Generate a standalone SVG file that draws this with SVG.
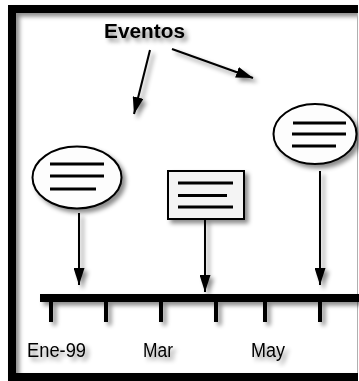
<svg xmlns="http://www.w3.org/2000/svg" width="359" height="381" viewBox="0 0 359 381">
  <defs>
    <filter id="shadow" x="-20%" y="-20%" width="150%" height="150%">
      <feDropShadow dx="3.5" dy="3.5" stdDeviation="2.2" flood-color="#000" flood-opacity="0.45"/>
    </filter>
    <marker id="headL" viewBox="0 0 17 11" refX="17" refY="5.5" markerWidth="17" markerHeight="11" markerUnits="userSpaceOnUse" orient="auto">
      <path d="M0,0 L17,5.5 L0,11 Z" fill="#000"/>
    </marker>
  </defs>
  <style>
    .frame { fill: none; stroke: #000; stroke-width: 8; }
    .shape { stroke: #000; stroke-width: 2; }
    .txtline { stroke: #000; stroke-width: 3; }
    .conn { stroke: #000; stroke-width: 2; fill: none; }
    .label { font-family: "Liberation Sans", Arial, sans-serif; font-size: 19.5px; fill: #000; }
    .title { font-family: "Liberation Sans", Arial, sans-serif; font-size: 21px; font-weight: bold; fill: #000; }
    .tick { stroke: #000; stroke-width: 4; }
  </style>

  <rect width="359" height="381" fill="#fff"/>

  <!-- outer frame -->
  <g id="frame" filter="url(#shadow)">
    <rect class="frame" x="12" y="9" width="360" height="368"/>
  </g>
  <rect x="358" y="0" width="1" height="381" fill="#fff"/>
  <line x1="357.5" y1="13" x2="357.5" y2="373" stroke="#b0b0b0" stroke-width="1"/>

  <!-- title -->
  <g id="title" filter="url(#shadow)">
    <text class="title" x="104" y="38" textLength="81" lengthAdjust="spacingAndGlyphs">Eventos</text>
  </g>

  <!-- event 1: ellipse -->
  <g id="event1" filter="url(#shadow)">
    <ellipse class="shape" cx="77" cy="177.5" rx="44.5" ry="31" fill="#fdfdfd"/>
    <line class="txtline" x1="50" y1="164" x2="104" y2="164"/>
    <line class="txtline" x1="50" y1="176" x2="104" y2="176"/>
    <line class="txtline" x1="50" y1="189" x2="96" y2="189" stroke-width="2.5"/>
  </g>

  <!-- event 2: rectangle -->
  <g id="event2" filter="url(#shadow)">
    <rect class="shape" x="168" y="171" width="76" height="48" fill="#f4f4f4"/>
    <line class="txtline" x1="178" y1="183" x2="233" y2="183"/>
    <line class="txtline" x1="178" y1="195.5" x2="227" y2="195.5"/>
    <line class="txtline" x1="178" y1="207" x2="233" y2="207"/>
  </g>

  <!-- event 3: ellipse -->
  <g id="event3" filter="url(#shadow)">
    <ellipse class="shape" cx="315" cy="134" rx="41.5" ry="30" fill="#fdfdfd"/>
    <line class="txtline" x1="293" y1="123" x2="346" y2="123" stroke-width="2.5"/>
    <line class="txtline" x1="292" y1="134" x2="346" y2="134"/>
    <line class="txtline" x1="292" y1="146" x2="336" y2="146"/>
  </g>

  <!-- timeline axis -->
  <g id="timeline" filter="url(#shadow)">
    <rect x="40" y="294" width="330" height="8" fill="#000"/>
    <line class="tick" x1="51" y1="300" x2="51" y2="322"/>
    <line class="tick" x1="106" y1="300" x2="106" y2="322"/>
    <line class="tick" x1="161" y1="300" x2="161" y2="322"/>
    <line class="tick" x1="216" y1="300" x2="216" y2="322"/>
    <line class="tick" x1="265" y1="300" x2="265" y2="322"/>
    <line class="tick" x1="320" y1="300" x2="320" y2="322"/>
  </g>

  <!-- axis labels -->
  <g id="labels" filter="url(#shadow)">
    <text class="label" x="27" y="357" textLength="59" lengthAdjust="spacingAndGlyphs">Ene-99</text>
    <text class="label" x="143" y="357" textLength="30" lengthAdjust="spacingAndGlyphs">Mar</text>
    <text class="label" x="251" y="357" textLength="34" lengthAdjust="spacingAndGlyphs">May</text>
  </g>

  <!-- connectors -->
  <g id="connectors" filter="url(#shadow)">
    <line class="conn" x1="150" y1="50" x2="134" y2="114" marker-end="url(#headL)"/>
    <line class="conn" x1="172" y1="49" x2="253" y2="78" marker-end="url(#headL)"/>
    <line class="conn" x1="79" y1="213" x2="79" y2="285" marker-end="url(#headL)"/>
    <line class="conn" x1="205" y1="219" x2="205" y2="292" marker-end="url(#headL)"/>
    <line class="conn" x1="320" y1="171" x2="320" y2="285" marker-end="url(#headL)"/>
  </g>
</svg>
